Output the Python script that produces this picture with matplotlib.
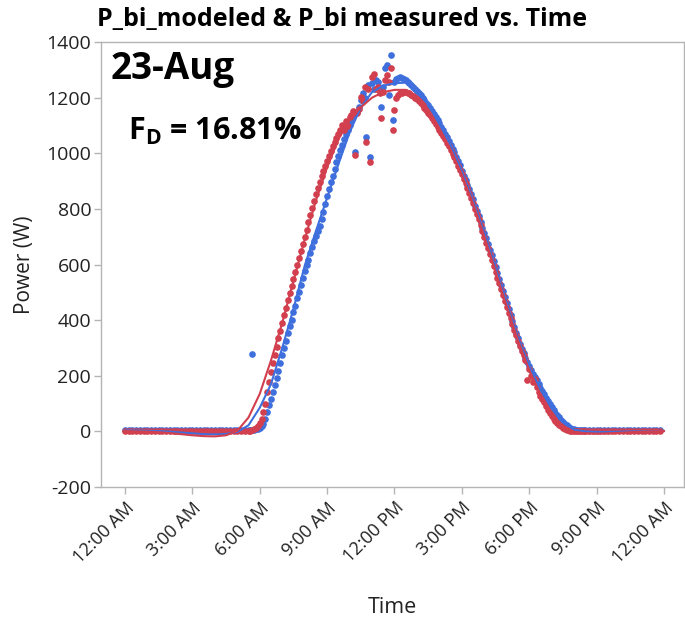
import matplotlib
matplotlib.use("Agg")
import matplotlib.pyplot as plt
import numpy as np

# sample times in minutes after midnight
MIN_NIGHT_AM = np.arange(0, 330, 10)
MIN_DAY = np.arange(330, 1230, 5)
MIN_NIGHT_PM = np.arange(1230, 1440, 10)
MIN_FIT = np.arange(0, 1441, 30)

BLUE_NIGHT_AM = [5, 5, 4, 5, 5, 4, 5, 5, 5, 4, 5, 5, 4, 5, 5, 5, 4,
                 5, 5, 4, 5, 5, 5, 4, 5, 5, 4, 5, 5, 5, 4, 5, 5]
RED_NIGHT_AM = [1, 0, 1, 0, 0, 1, 0, 0, 1, 0, 0, 1, 0, 0, 1, 0, 0,
                1, 0, 0, 1, 0, 0, 1, 0, 0, 1, 0, 0, 1, 0, 0, 1]
BLUE_NIGHT_PM = [5, 4, 5, 5, 4, 5, 5, 5, 4, 5, 5, 4, 5, 5, 5, 4, 5, 5, 4, 5, 5]
RED_NIGHT_PM = [0, 1, 0, 0, 1, 0, 0, 1, 0, 0, 1, 0, 0, 1, 0, 0, 1, 0, 0, 1, 0]

# 5:30 .. 20:25, one row per hour
BLUE_DAY = [
    5, 4, 280, 6, 8, 10,
    12, 18, 28, 45, 70, 95, 118, 142, 168, 192, 218, 246,
    275, 300, 326, 352, 378, 402, 428, 452, 478, 502, 526, 550,
    575, 598, 618, 640, 662, 685, 702, 720, 738, 765, 790, 818,
    845, 870, 895, 920, 945, 968, 990, 1010, 1030, 1050, 1068, 1085,
    1100, 1118, 1134, 1004, 1150, 1166, 1190, 1216, 1200, 1058, 1245, 986,
    1252, 1232, 1263, 1258, 1228, 1166, 1240, 1306, 1317, 1209, 1352, 1119,
    1258, 1266, 1272, 1274, 1272, 1268, 1263, 1258, 1252, 1246, 1239, 1231,
    1225, 1217, 1209, 1200, 1191, 1182, 1172, 1162, 1152, 1141, 1130, 1119,
    1108, 1096, 1084, 1071, 1058, 1045, 1031, 1017, 1003, 988, 973, 957,
    935, 918, 903, 886, 872, 852, 834, 811, 794, 773, 753, 733,
    712, 694, 672, 652, 634, 611, 590, 569, 548, 526, 504, 482,
    460, 439, 418, 397, 376, 355, 335, 316, 298, 281, 265, 250,
    235, 221, 208, 195, 183, 170, 157, 145, 133, 121, 109, 97,
    86, 76, 67, 58, 50, 42, 35, 28, 22, 17, 12, 9,
    7, 6, 5, 5, 5, 5,
]
RED_DAY = [
    0, 2, 4, 8, 11, 18,
    30, 45, 68, 100, 140, 178, 212, 245, 275, 305, 335, 362,
    390, 418, 445, 472, 498, 522, 548, 572, 598, 622, 648, 672,
    700, 725, 752, 778, 802, 828, 852, 875, 898, 918, 936, 955,
    972, 990, 1008, 1025, 1040, 1055, 1068, 1082, 1102, 1084, 1115, 1098,
    1130, 1137, 1152, 993, 1145, 1160, 1201, 1188, 1238, 1040, 1232, 968,
    1274, 1286, 1230, 1237, 1216, 1126, 1222, 1262, 1281, 1255, 1306, 1083,
    1155, 1200, 1208, 1215, 1218, 1220, 1220, 1218, 1215, 1211, 1206, 1200,
    1194, 1187, 1180, 1172, 1164, 1155, 1146, 1137, 1127, 1117, 1107, 1096,
    1085, 1074, 1062, 1050, 1038, 1025, 1012, 999, 985, 971, 956, 941,
    925, 909, 892, 875, 857, 839, 820, 801, 782, 762, 742, 721,
    700, 679, 658, 637, 616, 595, 574, 553, 532, 511, 490, 469,
    448, 427, 406, 385, 365, 345, 326, 307, 290, 273, 257, 183,
    225, 200, 178, 190, 160, 140, 126, 115, 104, 90, 78, 65,
    55, 46, 38, 30, 24, 18, 13, 9, 6, 4, 3, 2,
    1, 0, 0, 0, 0, 0,
]

# smoothing fits, every 30 minutes from 0:00 to 24:00
BLUE_FIT = [3, 3, 2, 1, -1, -4, -7, -10, -11, -9, -2, 22,
            85, 170, 300, 440, 595, 720, 840, 960, 1075, 1165, 1220, 1243,
            1252, 1254, 1232, 1175, 1105, 1030, 935, 830, 715, 590, 462, 338,
            235, 150, 82, 32, 6, 0, -2, -2, -1, 0, 1, 1, 2]
RED_FIT = [1, 0, -1, -3, -6, -10, -14, -17, -18, -14, 2, 50,
           135, 255, 390, 540, 690, 830, 950, 1050, 1120, 1165, 1200, 1220,
           1228, 1228, 1205, 1148, 1085, 1012, 922, 818, 700, 575, 448, 326,
           220, 130, 62, 18, -2, -7, -8, -7, -5, -3, -1, 0, 1]

XTICKS = [0, 3, 6, 9, 12, 15, 18, 21, 24]
XTICK_LABELS = ["12:00 AM", "3:00 AM", "6:00 AM", "9:00 AM", "12:00 PM",
                "3:00 PM", "6:00 PM", "9:00 PM", "12:00 AM"]

BLUE = "#3f6fdc"
RED = "#d23f4e"
GRID = "#b4b4b4"
TEXT = "#222222"


def main() -> None:
    plt.rcParams.update({
        "font.family": ["Open Sans", "DejaVu Sans"],
        "mathtext.fontset": "custom",
        "mathtext.rm": "Open Sans",
        "mathtext.bf": "Open Sans:bold",
        "axes.unicode_minus": False,
    })
    fig = plt.figure(figsize=(6.85, 6.2), dpi=100)
    ax = fig.add_axes([0.1474, 0.2145, 0.8511, 0.7177])

    t_all = np.concatenate([MIN_NIGHT_AM, MIN_DAY, MIN_NIGHT_PM]) / 60
    blue = np.concatenate([BLUE_NIGHT_AM, BLUE_DAY, BLUE_NIGHT_PM])
    red = np.concatenate([RED_NIGHT_AM, RED_DAY, RED_NIGHT_PM])
    t_fit = MIN_FIT / 60

    ax.scatter(t_all, blue, s=23, color=BLUE, linewidths=0, zorder=2)
    ax.scatter(t_all, red, s=23, color=RED, linewidths=0, zorder=3)
    ax.plot(t_fit, BLUE_FIT, color=BLUE, lw=1.5, zorder=4)
    ax.plot(t_fit, RED_FIT, color=RED, lw=1.5, zorder=4)

    ax.set_xlim(-1.07, 24.89)
    ax.set_ylim(-200, 1400)
    ax.set_yticks(range(-200, 1401, 200))
    ax.set_xticks(XTICKS)
    ax.set_xticklabels(XTICK_LABELS, rotation=45, ha="right", rotation_mode="anchor")
    ax.tick_params(axis="both", colors=GRID, labelcolor=TEXT, labelsize=13,
                   length=5, width=1)
    ax.tick_params(axis="y", labelsize=14, pad=2)
    for spine in ax.spines.values():
        spine.set_color(GRID)
        spine.set_linewidth(1)

    ax.set_ylabel("Power (W)", fontsize=15, color=TEXT, labelpad=8)
    ax.set_xlabel("Time", fontsize=15.5, color=TEXT, labelpad=22)

    fig.text(0.142, 0.969, "P_bi_modeled & P_bi measured vs. Time", ha="left",
             va="center", fontsize=18, fontweight="bold", color="black")
    ax.text(0.016, 0.94, "23-Aug", transform=ax.transAxes, ha="left", va="center",
            fontsize=26.5, fontweight="bold", color="black")
    ax.text(0.047, 0.80, r"F$_\mathbf{D}$ = 16.81%", transform=ax.transAxes,
            ha="left", va="center", fontsize=22, fontweight="bold", color="black")

    fig.savefig("out.png", dpi=100)
    plt.close(fig)


if __name__ == "__main__":
    main()
